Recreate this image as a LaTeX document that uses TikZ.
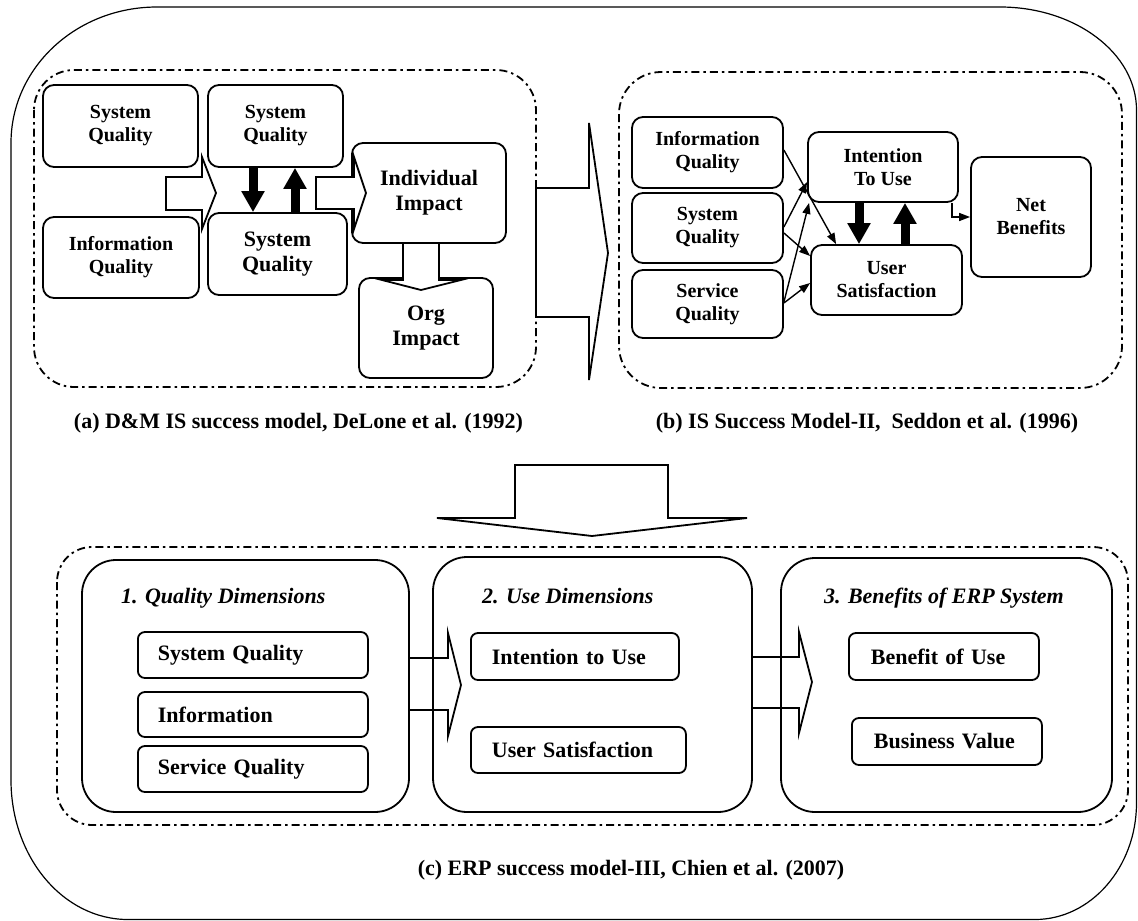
\documentclass[tikz,border=0pt]{standalone}
\usepackage{fontspec}
\setmainfont{Liberation Serif}
\usetikzlibrary{arrows.meta,calc}
\tikzset{
  dashpanel/.style={line width=1.8pt, dash pattern=on 8pt off 4pt on 2.5pt off 4pt},
  sbox/.style={draw, line width=1.8pt, rounded corners=11pt, align=center, inner sep=0pt, fill=white,
    font=\fontsize{20}{23}\selectfont\bfseries},
  lbox/.style={sbox, font=\fontsize{22}{25}\selectfont\bfseries},
  bigbox/.style={draw, line width=1.8pt, rounded corners=34pt, inner sep=0pt},
  ibox/.style={draw, line width=1.8pt, rounded corners=7pt, anchor=west, inner ysep=0pt, inner xsep=20pt,
    align=left, font=\fontsize{22}{25}\selectfont\bfseries},
  ctitle/.style={anchor=base west, inner sep=0pt, font=\fontsize{22}{25}\selectfont\bfseries\itshape},
  capt/.style={inner sep=0pt, font=\fontsize{22}{25}\selectfont\bfseries},
  hollow/.style={draw, line width=1.8pt, fill=white, line join=miter},
  hollowc/.style={draw, line width=1.8pt, line join=miter},
  thickarrow/.style={line width=9pt, -{Triangle[length=21pt,width=22pt]}},
  thinarrow/.style={line width=1.4pt, -{Triangle[length=11pt,width=8pt]}}
}
\begin{document}
\begin{tikzpicture}[x=1pt,y=-1pt]
\useasboundingbox (0,0) rectangle (1138,921);
% outer frame
\draw[line width=1.2pt] (157,7) -- (1000,7) .. controls (1075,7) and (1136.5,53) .. (1136.5,110)
  -- (1136.5,803) .. controls (1136.5,867) and (1091,919.5) .. (1035,919.5)
  -- (128,919.5) .. controls (63,919.5) and (11,857) .. (11,780)
  -- (11,143) .. controls (11,68) and (76,7) .. (157,7) -- cycle;
% dashed panels
\draw[dashpanel, rounded corners=40pt] (34,70) rectangle (536,387);
\draw[dashpanel, rounded corners=42pt] (619,72) rectangle (1122,388);
\draw[dashpanel, rounded corners=35pt] (57,547) rectangle (1128,825);

% ---------- (a) ----------
\node[sbox, minimum width=155pt, minimum height=82pt] (aSQ1) at (120.5,126) {System\\Quality};
\node[sbox, minimum width=156pt, minimum height=81pt] (aIQ) at (121,257.5) {Information\\Quality};
\node[sbox, minimum width=135pt, minimum height=82pt] (aSQ2) at (275.5,126) {System\\Quality};
\node[lbox, minimum width=139pt, minimum height=82pt] (aSQ3) at (277.5,254) {System\\Quality};
\node[lbox, minimum width=154pt, minimum height=100pt] (aII) at (429,193) {Individual\\Impact};
\node[lbox, minimum width=134pt, minimum height=100pt] (aOI) at (426,328) {Org\\Impact};
\draw[hollow] (166,177) -- (202,177) -- (202,157) -- (216,193) -- (202,229) -- (202,210) -- (166,210) -- cycle;
\draw[hollow] (316,177) -- (354,177) -- (354,157) -- (366,193) -- (354,229) -- (354,209) -- (316,209) -- cycle;
\draw[hollow] (403,243) -- (403,280) -- (382,280) -- (421,290) -- (461,280) -- (439,280) -- (439,243) -- cycle;
\draw[thickarrow] ([xshift=-22.5pt]aSQ2.south) -- ([xshift=-22.5pt]aSQ2.south |- aSQ3.north);
\draw[thickarrow] ([xshift=17.5pt]aSQ3.north) -- ([xshift=17.5pt]aSQ3.north |- aSQ2.south);
\node[capt] (capA) at (298.5,423) {(a) D\&M IS success model, DeLone et al. (1992)};

% big arrow (a) -> (b)
\draw[hollow] (536,188) -- (589,188) -- (589,123) -- (608,253) -- (589,380) -- (589,317) -- (536,317) -- cycle;

% ---------- (b) ----------
\node[sbox, minimum width=151pt, minimum height=71pt] (bIQ) at (707.5,152.5) {Information\\Quality};
\node[sbox, minimum width=151pt, minimum height=70pt] (bSQ) at (707.5,228) {System\\Quality};
\node[sbox, minimum width=151pt, minimum height=68pt] (bSvc) at (707.5,304) {Service\\Quality};
\node[sbox, minimum width=150pt, minimum height=70pt] (bITU) at (883,167) {Intention\\To Use};
\node[sbox, minimum width=151pt, minimum height=70pt] (bUS) at (886.5,280) {User\\Satisfaction};
\node[sbox, minimum width=120pt, minimum height=120pt] (bNB) at (1031,217) {Net\\Benefits};
\draw[thinarrow] ([yshift=2.5pt]bIQ.east) -- ([xshift=26pt]bUS.north west);
\draw[thinarrow] ([yshift=1pt]bSQ.east) -- ([yshift=-15pt]bITU.west);
\draw[thinarrow] ([yshift=-5pt]bSQ.east) -- ([yshift=24pt]bUS.west);
\draw[thinarrow] ([yshift=2pt]bSvc.east) -- ([xshift=2pt]bITU.south west);
\draw[thinarrow] ([yshift=1pt]bSvc.east) -- ([yshift=-3pt]bUS.west);
\draw[thinarrow] ([xshift=-7pt]bITU.south east) |- (bNB.west);
\draw[thickarrow] ([xshift=-24pt]bITU.south) -- ([xshift=-24pt]bITU.south |- bUS.north);
\draw[thickarrow] ([xshift=18.5pt]bUS.north) -- ([xshift=18.5pt]bUS.north |- bITU.south);
\node[capt] (capB) at (867,423) {(b) IS Success Model-II,\ \ Seddon et al. (1996)};

% big arrow down
\draw[hollow] (515,465) -- (668,465) -- (668,518) -- (747,518) -- (592,536) -- (437,518) -- (515,518) -- cycle;

% ---------- (c) ----------
\node[bigbox, minimum width=327pt, minimum height=252pt] (cB1) at (245.5,686) {};
\node[bigbox, minimum width=319pt, minimum height=255pt] (cB2) at (592.5,684.5) {};
\node[bigbox, minimum width=331pt, minimum height=254pt] (cB3) at (946.5,685) {};
\node[ctitle] (cT1) at (121,603) {1. Quality Dimensions};
\node[ctitle] (cT2) at (482,603) {2. Use Dimensions};
\node[ctitle] (cT3) at (824,603) {3. Benefits of ERP System};
\node[ibox, text width=190pt, minimum height=46pt] (c1a) at (137,655) {System Quality};
\node[ibox, text width=190pt, minimum height=45pt] (c1b) at (137,714.5) {Information};
\node[ibox, text width=190pt, minimum height=46pt] (c1c) at (137,769) {Service Quality};
\node[ibox, inner xsep=21pt, text width=166pt, minimum height=47pt] (c2a) at (470,656.5) {Intention to Use};
\node[ibox, inner xsep=21pt, text width=173pt, minimum height=46pt] (c2b) at (470,750) {User Satisfaction};
\node[ibox, inner xsep=22pt, text width=146pt, minimum height=47pt] (c3a) at (848,656.5) {Benefit of Use};
\node[ibox, inner xsep=22pt, text width=146pt, minimum height=47pt] (c3b) at (851,741.5) {Business Value};
\draw[hollowc] (cB1.east |- 0,658) -- (448,658) -- (448,633) -- (461,685) -- (448,736) -- (448,710) -- (cB1.east |- 0,710);
\draw[hollowc] (cB2.east |- 0,657) -- (799,657) -- (799,632) -- (812,682) -- (799,733) -- (799,708) -- (cB2.east |- 0,708);
\node[capt] (capC) at (631,870) {(c) ERP success model-III, Chien et al. (2007)};
\end{tikzpicture}
\end{document}
